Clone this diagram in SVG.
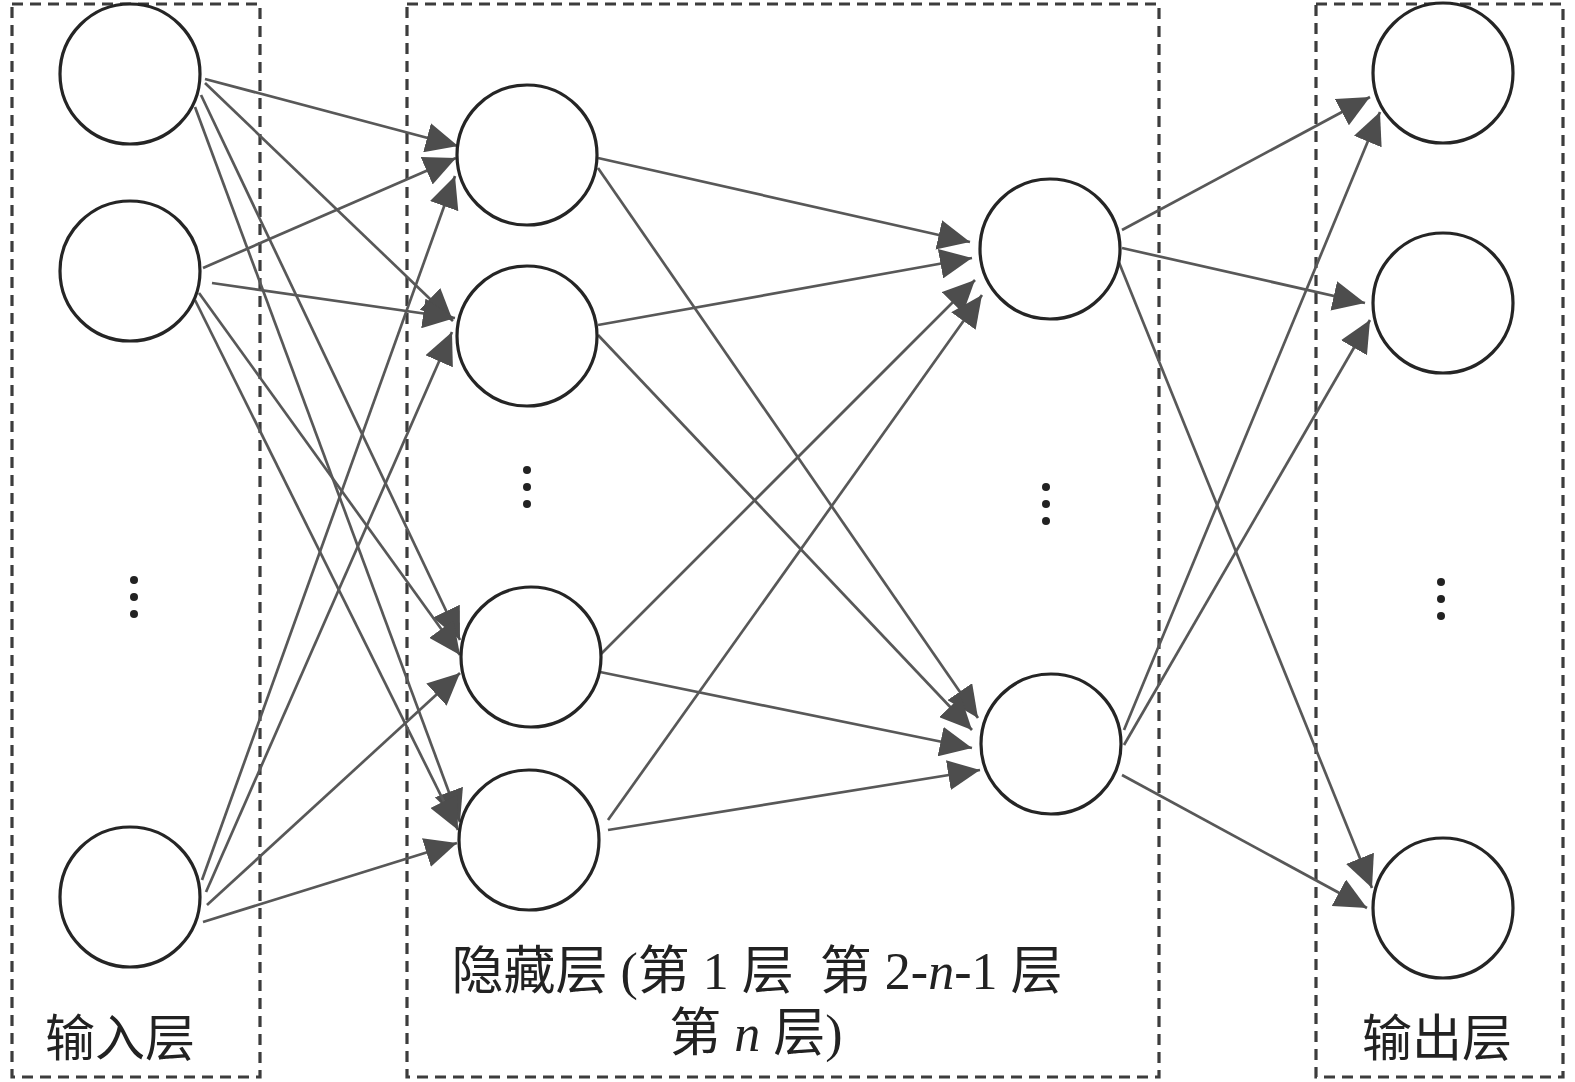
<svg xmlns="http://www.w3.org/2000/svg" width="1575" height="1082" viewBox="0 0 1575 1082">
<style>
.box{fill:none;stroke:#3c3c3c;stroke-width:3.2;stroke-dasharray:11 7}
.node{fill:#fff;stroke:#252525;stroke-width:3.2}
.e{stroke:#585858;stroke-width:2.7;fill:none;marker-end:url(#ah)}
.dot{fill:#222}
.lbl{font-family:"Liberation Serif","Noto Sans CJK SC",serif;font-size:50px;fill:#222;white-space:pre}
.big{font-size:52px}
</style>
<defs>
<marker id="ah" markerUnits="userSpaceOnUse" markerWidth="34" markerHeight="30" refX="32" refY="15" orient="auto">
<path d="M0,0 L32,15 L0,30 z" fill="#4d4d4d"/>
</marker>
</defs>
<rect width="1575" height="1082" fill="#fff"/>
<g id="boxes">
<rect class="box" x="12" y="4" width="248" height="1073"/>
<rect class="box" x="407" y="4" width="752" height="1073"/>
<rect class="box" x="1316" y="4" width="247" height="1073"/>
</g>
<g id="connectors">
<line class="e" x1="205" y1="79" x2="458" y2="146"/>
<line class="e" x1="205" y1="83" x2="453" y2="321"/>
<line class="e" x1="201" y1="95" x2="460" y2="640"/>
<line class="e" x1="195" y1="107" x2="460" y2="822"/>
<line class="e" x1="203" y1="268" x2="456" y2="158"/>
<line class="e" x1="212" y1="283" x2="455" y2="318"/>
<line class="e" x1="199" y1="293" x2="460" y2="655"/>
<line class="e" x1="195" y1="300" x2="458" y2="830"/>
<line class="e" x1="202" y1="880" x2="455" y2="176"/>
<line class="e" x1="206" y1="892" x2="452" y2="332"/>
<line class="e" x1="207" y1="905" x2="460" y2="673"/>
<line class="e" x1="203" y1="922" x2="457" y2="843"/>
<line class="e" x1="598" y1="158" x2="970" y2="242"/>
<line class="e" x1="598" y1="168" x2="978" y2="718"/>
<line class="e" x1="598" y1="325" x2="972" y2="258"/>
<line class="e" x1="598" y1="335" x2="972" y2="730"/>
<line class="e" x1="600" y1="655" x2="975" y2="280"/>
<line class="e" x1="600" y1="672" x2="972" y2="748"/>
<line class="e" x1="608" y1="820" x2="982" y2="295"/>
<line class="e" x1="608" y1="830" x2="980" y2="770"/>
<line class="e" x1="1122" y1="230" x2="1370" y2="97"/>
<line class="e" x1="1122" y1="248" x2="1365" y2="303"/>
<line class="e" x1="1118" y1="260" x2="1372" y2="888"/>
<line class="e" x1="1124" y1="730" x2="1380" y2="112"/>
<line class="e" x1="1124" y1="745" x2="1370" y2="320"/>
<line class="e" x1="1122" y1="775" x2="1367" y2="908"/>
</g>
<g id="in1"><circle class="node" cx="130" cy="74" r="70"/></g>
<g id="in2"><circle class="node" cx="130" cy="271" r="70"/></g>
<g id="in-dots"><circle class="dot" cx="134" cy="580" r="4"/><circle class="dot" cx="134" cy="597" r="4"/><circle class="dot" cx="134" cy="614" r="4"/></g>
<g id="in3"><circle class="node" cx="130" cy="897" r="70"/></g>
<g id="h1"><circle class="node" cx="527" cy="155" r="70"/></g>
<g id="h2"><circle class="node" cx="527" cy="336" r="70"/></g>
<g id="h-dots"><circle class="dot" cx="527" cy="470" r="4"/><circle class="dot" cx="527" cy="487" r="4"/><circle class="dot" cx="527" cy="504" r="4"/></g>
<g id="h3"><circle class="node" cx="531" cy="657" r="70"/></g>
<g id="h4"><circle class="node" cx="529" cy="840" r="70"/></g>
<g id="hn1"><circle class="node" cx="1050" cy="249" r="70"/></g>
<g id="hn-dots"><circle class="dot" cx="1046" cy="487" r="4"/><circle class="dot" cx="1046" cy="504" r="4"/><circle class="dot" cx="1046" cy="521" r="4"/></g>
<g id="hn2"><circle class="node" cx="1051" cy="744" r="70"/></g>
<g id="o1"><circle class="node" cx="1443" cy="73" r="70"/></g>
<g id="o2"><circle class="node" cx="1443" cy="303" r="70"/></g>
<g id="o-dots"><circle class="dot" cx="1441" cy="582" r="4"/><circle class="dot" cx="1441" cy="599" r="4"/><circle class="dot" cx="1441" cy="616" r="4"/></g>
<g id="o3"><circle class="node" cx="1443" cy="908" r="70"/></g>
<g id="labels">
<text class="lbl" x="45" y="1056">输入层</text>
<text class="lbl" x="1362" y="1056">输出层</text>
<text class="lbl big" x="757" y="989" text-anchor="middle" xml:space="preserve">隐藏层 (第 1 层  第 2-<tspan font-style="italic">n</tspan>-1 层</text>
<text class="lbl big" x="756" y="1051" text-anchor="middle">第 <tspan font-style="italic">n</tspan> 层)</text>
</g>
</svg>
